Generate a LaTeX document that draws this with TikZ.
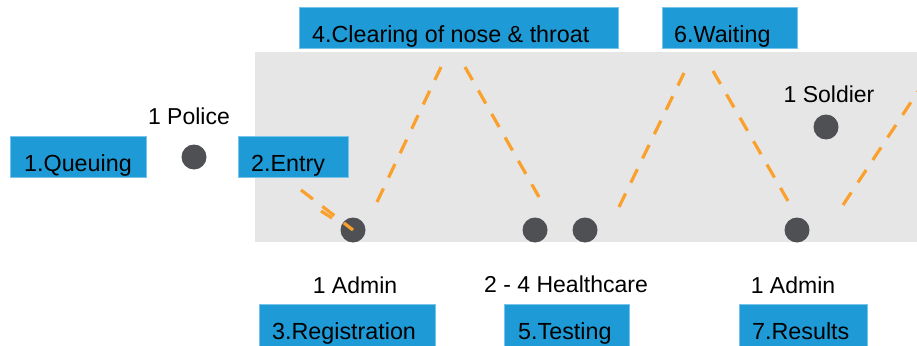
\documentclass[tikz,border=0pt]{standalone}
\usepackage{fontspec}
\setmainfont{Liberation Sans}
\definecolor{boxblue}{RGB}{30,155,215}
\definecolor{boxedge}{RGB}{120,195,232}
\definecolor{panel}{RGB}{230,230,230}
\definecolor{dotgray}{RGB}{78,80,84}
\definecolor{dashorange}{RGB}{250,160,45}
\begin{document}
\begin{tikzpicture}[x=1pt,y=-1pt,
  stagebox/.style={fill=boxblue, draw=boxedge, line width=0.8pt, anchor=north west, inner sep=0pt},
  stagetext/.style={anchor=base west, inner sep=0pt, font=\fontsize{23.3}{27}\selectfont, text=black},
  roletext/.style={anchor=base, inner sep=0pt, font=\fontsize{23}{27}\selectfont, text=black},
  person/.style={circle, fill=dotgray, minimum size=25pt, inner sep=0pt},
  route/.style={draw=dashorange, line width=3.2pt, dash pattern=on 15pt off 12pt}]
\useasboundingbox (0,0) rectangle (917,345);
\fill[panel] (255,52) rectangle (925,242);
% stage boxes
\node[stagebox, minimum width=136pt, minimum height=41pt] (q) at (10,136) {};
\node[stagebox, minimum width=110pt, minimum height=41pt] (e) at (238,136) {};
\node[stagebox, minimum width=319pt, minimum height=41pt] (c) at (299,7) {};
\node[stagebox, minimum width=135pt, minimum height=41pt] (w) at (662,7) {};
\node[stagebox, minimum width=176pt, minimum height=46pt] (r) at (259,304) {};
\node[stagebox, minimum width=125pt, minimum height=46pt] (t) at (504,304) {};
\node[stagebox, minimum width=128pt, minimum height=46pt] (s) at (739,304) {};
\node[stagetext] (qt) at ([xshift=14pt,yshift=-35pt]q.north west) {1.Queuing};
\node[stagetext] (et) at ([xshift=13pt,yshift=-35pt]e.north west) {2.Entry};
\node[stagetext] (ct) at ([xshift=13pt,yshift=-35pt]c.north west) {4.Clearing of nose \& throat};
\node[stagetext] (wt) at ([xshift=12pt,yshift=-35pt]w.north west) {6.Waiting};
\node[stagetext] (rt) at ([xshift=13pt,yshift=-35pt]r.north west) {3.Registration};
\node[stagetext] (tt) at ([xshift=14pt,yshift=-35pt]t.north west) {5.Testing};
\node[stagetext] (st) at ([xshift=13pt,yshift=-35pt]s.north west) {7.Results};
% people
\node[person] (police) at (194,157) {};
\node[person] (p1) at (353,230) {};
\node[person] (p2) at (535,230) {};
\node[person] (p3) at (585,230) {};
\node[person] (p4) at (797,230) {};
\node[person] (soldier) at (826,127) {};
% role labels
\node[roletext] (lpolice) at (189,124) {1 Police};
\node[roletext] (ladmin1) at (355,293) {1 Admin};
\node[roletext] (lhealth) at (566,292) {2 - 4 Healthcare};
\node[roletext] (ladmin2) at (793,293) {1 Admin};
\node[roletext] (lsoldier) at (829,102) {1 Soldier};
% route
\coordinate (a0) at (301,190);
\coordinate (b0) at (377,202);
\coordinate (b1) at (441,67);
\coordinate (c0) at (465,67);
\coordinate (c1) at (539,197);
\coordinate (d0) at (619,207);
\coordinate (d1) at (684,73);
\coordinate (e0) at (713,71);
\coordinate (e1) at (788,201);
\coordinate (f0) at (843,205);
\coordinate (f1) at (923,84);
\coordinate (x0) at (321,211);
\coordinate (x1) at (332,218);
\draw[route] (a0) -- (p1.center);
\draw[draw=dashorange, line width=3.2pt] (x0) -- (x1);
\draw[route] (b0) -- (b1);
\draw[route] (c0) -- (c1);
\draw[route] (d0) -- (d1);
\draw[route] (e0) -- (e1);
\draw[route] (f0) -- (f1);
\end{tikzpicture}
\end{document}
